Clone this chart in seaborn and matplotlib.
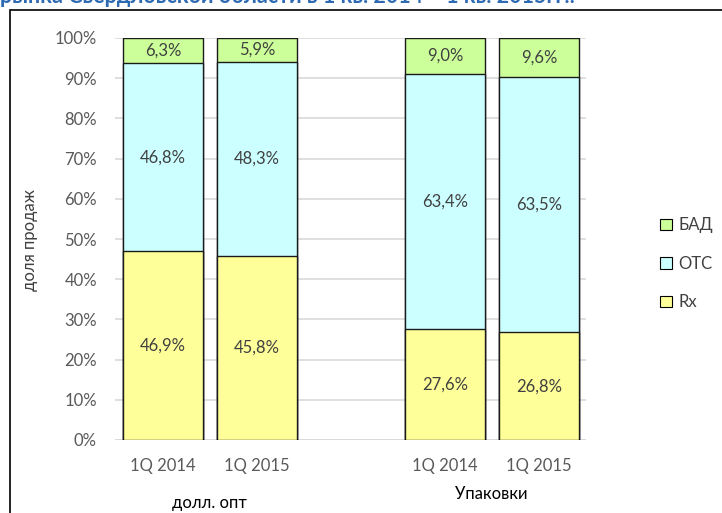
import matplotlib
matplotlib.use("Agg")
import matplotlib.pyplot as plt
import matplotlib.patches as mpatches
import seaborn as sns
import pandas as pd
import numpy as np

# ---- data ----
periods = ["1Q 2014", "1Q 2015", "1Q 2014", "1Q 2015"]
groups = ["долл. опт", "Упаковки"]
rx = [46.9, 45.8, 27.6, 26.8]
otc = [46.8, 48.3, 63.4, 63.5]
bad = [6.3, 5.9, 9.0, 9.6]
series_names = ["БАД", "OTC", "Rx"]
y_ticks = [0, 10, 20, 30, 40, 50, 60, 70, 80, 90, 100]
title_text = "рынка Свердловской области в 1 кв. 2014 – 1 кв. 2015гг.:"
y_label = "доля продаж"

positions = [0, 1, 3, 4]

sns.set_theme(style="white")
plt.rcParams["font.family"] = ["Lato", "DejaVu Sans"]

c_rx = "#FFFF99"
c_otc = "#CCFFFF"
c_bad = "#CCFF99"
txt = "#404040"
fs = 12

fig = plt.figure(figsize=(7.22, 5.13), dpi=100)
ax = fig.add_axes([115 / 722, 1 - 440 / 513, (586 - 115) / 722, (440 - 38) / 513])

rx_a = np.array(rx)
otc_a = np.array(otc)
bad_a = np.array(bad)

df = pd.DataFrame({
    "pos": positions,
    "top": (rx_a + otc_a + bad_a) / 100,
    "mid": (rx_a + otc_a) / 100,
    "low": rx_a / 100,
})

for col, colr in [("top", c_bad), ("mid", c_otc), ("low", c_rx)]:
    sns.barplot(data=df, x="pos", y=col, native_scale=True, width=0.85,
                color=colr, edgecolor="#1a1a1a", linewidth=1.0, saturation=1,
                ax=ax, zorder=3)

ax.set_xlim(-0.51, 4.5)
ax.set_ylim(0, 1.0)
ax.set_yticks([t / 100 for t in y_ticks])
ax.set_yticklabels([f"{t}%" for t in y_ticks])
ax.grid(axis="y", color="#D9D9D9", linewidth=1.2, zorder=0)
ax.set_axisbelow(True)
for s in ax.spines.values():
    s.set_visible(False)
ax.axhline(0, color="#D9D9D9", linewidth=1.2, zorder=1)
ax.tick_params(axis="y", length=0, pad=13, labelsize=fs, labelcolor="#595959")
ax.tick_params(axis="x", length=0, pad=13, labelsize=fs, labelcolor="#595959")
ax.set_xticks(positions)
ax.set_xticklabels(periods)
ax.set_xlabel("")
ax.set_ylabel("")

# data labels
def fmt(v):
    return f"{v:.1f}%".replace(".", ",")

for p, a, b, c in zip(positions, rx, otc, bad):
    ax.text(p, a / 200, fmt(a), ha="center", va="center", fontsize=fs, color=txt, zorder=5)
    ax.text(p, (a + b / 2) / 100, fmt(b), ha="center", va="center", fontsize=fs, color=txt, zorder=5)
    ax.text(p, (a + b + c / 2) / 100, fmt(c), ha="center", va="center", fontsize=fs, color=txt, zorder=5)

# group labels
fig.text(209 / 722, 1 - 503 / 513, groups[0], ha="center", va="center", fontsize=fs, color="black")
fig.text(491 / 722, 1 - 494 / 513, groups[1], ha="center", va="center", fontsize=fs, color="black")

# y label
fig.text(30 / 722, 1 - 240 / 513, y_label, rotation=90, ha="center", va="center", fontsize=fs, color="#404040")

# legend
handles = [mpatches.Patch(facecolor=c, edgecolor="black", linewidth=0.8) for c in (c_bad, c_otc, c_rx)]
fig.legend(handles, series_names, loc="center left", bbox_to_anchor=(645 / 722, 1 - 264 / 513),
           frameon=False, fontsize=fs, handlelength=0.7, handleheight=0.7, handletextpad=0.4,
           labelspacing=1.35, labelcolor="#404040")

# chart frame
fig.add_artist(mpatches.Rectangle((10 / 722, -0.1), 1.0, 1 - 10 / 513 + 0.1,
                                  transform=fig.transFigure, fill=False,
                                  edgecolor="black", linewidth=1.2))

# clipped title (the reference shows only its lower part)
fig.text(0.0, 1 - 3 / 513, title_text, ha="left", va="baseline", fontsize=15.5,
         fontweight="bold", color="#2E6AB1")

fig.savefig("out.png", dpi=100)
